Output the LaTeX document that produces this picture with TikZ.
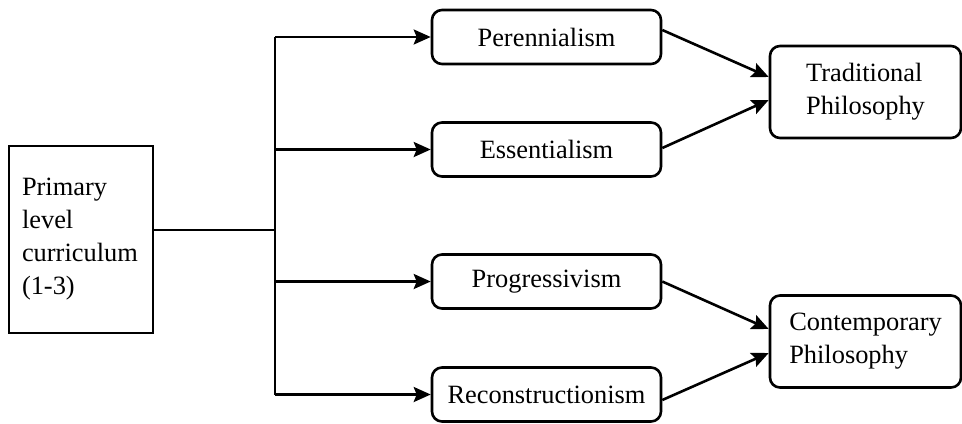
\documentclass[tikz,border=0pt]{standalone}
\usepackage{fontspec}
\setmainfont{Liberation Serif}
\usetikzlibrary{arrows.meta}

\tikzset{
  txt/.style={font=\fontsize{13.2}{16.5}\selectfont},
  stage/.style={txt, draw, line width=1.3pt, rounded corners=5pt,
    minimum width=114.5pt, minimum height=27pt},
  school/.style={txt, draw, line width=1.3pt, rounded corners=5pt,
    minimum width=95.5pt, minimum height=46pt, align=left},
  flow/.style={line width=1.3pt, -{Stealth[length=8.5pt,width=7.5pt,inset=1.5pt]}}
}

\begin{document}
\begin{tikzpicture}[x=0.5pt,y=-0.5pt]
  \useasboundingbox (0,0) rectangle (962,423);
  \node[txt, draw, line width=1.3pt, minimum width=72pt, minimum height=93.5pt,
    text width=59pt, inner xsep=6.5pt, align=left] (prim) at (81,239.5)
    {Primary\\level\\curriculum\\(1-3)};
  \node[stage] (pere) at (546.5,37) {Perennialism};
  \node[stage] (esse) at (546.5,149.5) {Essentialism};
  \node[stage] (prog) at (546.5,281.5) {Progressivism};
  \node[stage] (reco) at (546.5,394.5) {Reconstructionism};
  \node[school] (trad) at (865.5,92) {Traditional\\Philosophy};
  \node[school] (cont) at (865.5,341.5) {Contemporary\\Philosophy};
  % trunk
  \coordinate (trunk) at (275,230);
  \draw[line width=1.3pt] (prim.east |- trunk) -- (trunk);
  \draw[line width=1.3pt] (trunk |- pere.west) -- (trunk |- reco.west);
  \foreach \n in {pere,esse,prog,reco}
    \draw[flow] (trunk |- \n.west) -- (\n.west);
  % to the philosophies
  \draw[flow] ([yshift=3.5pt]pere.east) -- ([yshift=7.5pt]trad.west);
  \draw[flow] ([yshift=0.75pt]esse.east) -- ([yshift=-4pt]trad.west);
  \draw[flow] (prog.east) -- ([yshift=6.25pt]cont.west);
  \draw[flow] ([yshift=-2.75pt]reco.east) -- ([yshift=-5.75pt]cont.west);
\end{tikzpicture}
\end{document}
